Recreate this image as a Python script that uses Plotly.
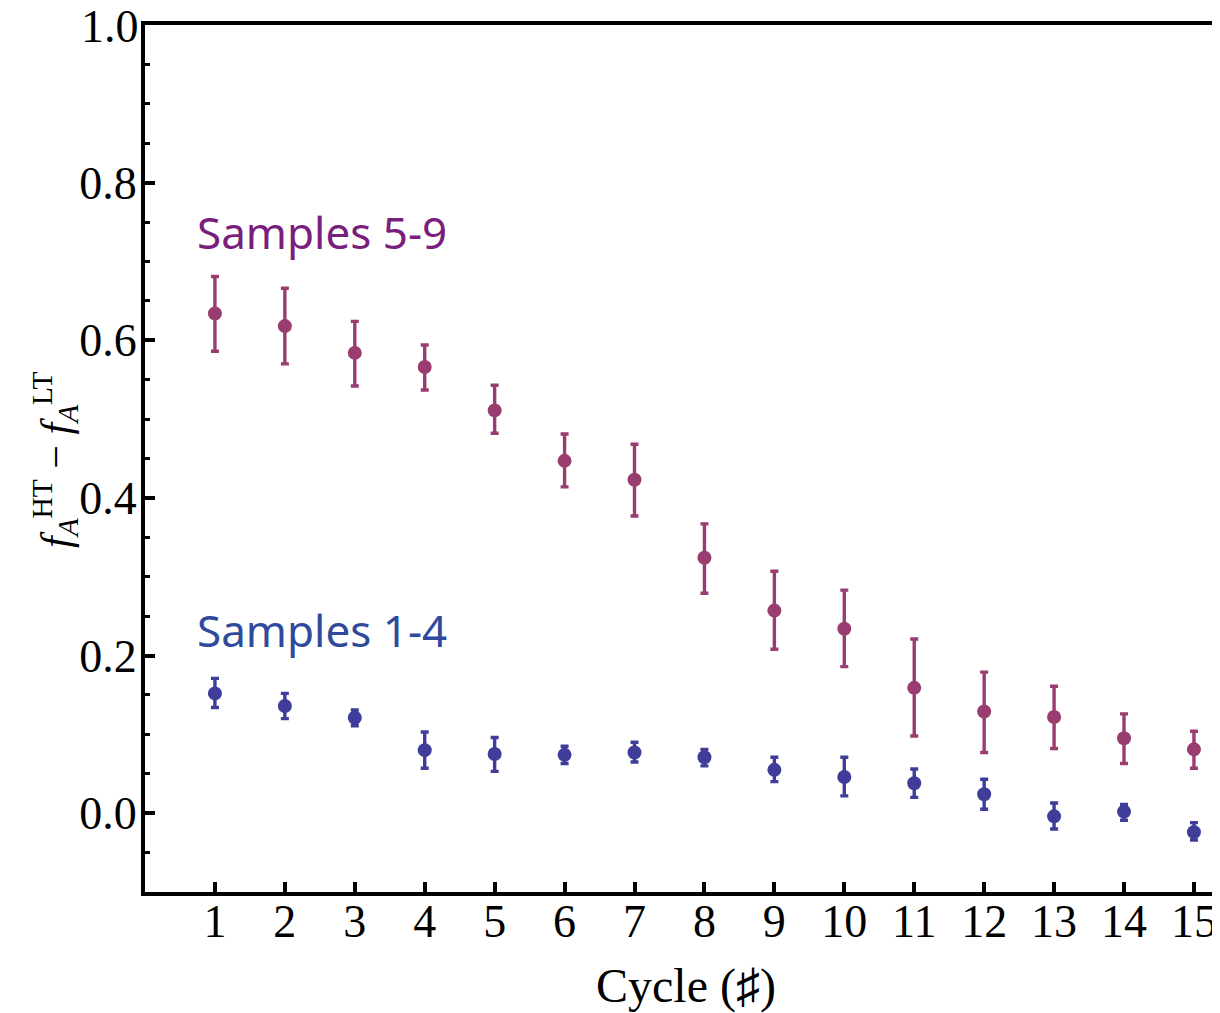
import plotly.graph_objects as go

cycles = list(range(1, 16))

s59_values = [0.634, 0.618, 0.584, 0.566, 0.511, 0.447, 0.423, 0.324, 0.257, 0.234, 0.159, 0.129, 0.122, 0.095, 0.081]
s59_err_plus = [0.047, 0.048, 0.040, 0.028, 0.032, 0.034, 0.045, 0.043, 0.050, 0.049, 0.062, 0.050, 0.039, 0.031, 0.023]
s59_err_minus = [0.048, 0.048, 0.042, 0.029, 0.029, 0.033, 0.046, 0.045, 0.049, 0.048, 0.061, 0.052, 0.040, 0.032, 0.024]

s14_values = [0.152, 0.136, 0.121, 0.080, 0.075, 0.074, 0.077, 0.071, 0.055, 0.046, 0.038, 0.024, -0.004, 0.002, -0.024]
s14_err_plus = [0.019, 0.016, 0.010, 0.023, 0.021, 0.011, 0.013, 0.010, 0.016, 0.025, 0.018, 0.019, 0.017, 0.009, 0.012]
s14_err_minus = [0.018, 0.016, 0.010, 0.023, 0.022, 0.011, 0.012, 0.011, 0.015, 0.024, 0.018, 0.019, 0.016, 0.011, 0.010]

y_ticks = [0.0, 0.2, 0.4, 0.6, 0.8, 1.0]
y_tick_labels = ["0.0", "0.2", "0.4", "0.6", "0.8", "1.0"]

magenta = "#993d71"
blue = "#3f3d99"

# the page has an 8px body margin, so figure pixel = page pixel - 8
OFF = 8
W, H = 1220, 1013
L, T = 145 - OFF, 25 - OFF
PB = 892 - OFF
R, B = 0, H - PB
pw, ph = W - L - R, PB - T
x_max = (W + OFF - 145) / 69.93


def paper(px, py):
    return ((px - OFF) - L) / pw, 1 - ((py - OFF) - T) / ph


fig = go.Figure()
for vals, ep, em, col in [(s59_values, s59_err_plus, s59_err_minus, magenta),
                          (s14_values, s14_err_plus, s14_err_minus, blue)]:
    fig.add_trace(go.Scatter(
        x=cycles, y=vals, mode="markers",
        marker=dict(color=col, size=14),
        error_y=dict(type="data", symmetric=False, array=ep, arrayminus=em,
                     color=col, thickness=3.4, width=4),
        showlegend=False,
    ))

serif = "Liberation Serif, Times New Roman, serif"

ax1 = paper(195, 232)
ax2 = paper(195, 630)
ay = paper(55, 460)
axt = paper(686, 986)
a10 = paper(141, 26)

fig.update_layout(
    width=W, height=H,
    margin=dict(l=L, r=R, t=T, b=B, autoexpand=False),
    paper_bgcolor="white", plot_bgcolor="white",
    font=dict(family=serif, size=46, color="black"),
    xaxis=dict(
        range=[0, x_max], tickmode="array", tickvals=cycles,
        ticks="inside", ticklen=10, tickwidth=3.5, tickcolor="black",
        showline=True, linecolor="black", linewidth=4, mirror=True,
        showgrid=False, zeroline=False,
        tickfont=dict(family=serif, size=46),
        ticklabelstandoff=-14,
    ),
    yaxis=dict(
        range=[-0.1, 1.0], tickmode="array", tickvals=y_ticks[:-1], ticktext=y_tick_labels[:-1],
        ticks="inside", ticklen=10, tickwidth=3.5, tickcolor="black",
        minor=dict(dtick=0.05, tick0=0, ticks="inside", ticklen=5, tickwidth=3, tickcolor="black"),
        showline=True, linecolor="black", linewidth=4,
        showgrid=False, zeroline=False,
        tickfont=dict(family=serif, size=46),
        ticklabelstandoff=-5,
    ),
    annotations=[
        dict(text=y_tick_labels[-1], x=a10[0], y=a10[1], xref="paper", yref="paper",
             showarrow=False, font=dict(family=serif, size=46, color="black"),
             xanchor="right", yanchor="middle"),
        dict(text="Samples 5-9", x=ax1[0], y=ax1[1], xref="paper", yref="paper",
             showarrow=False, font=dict(family="Noto Sans", size=44, color="#7a1e7e"),
             xanchor="left", yanchor="middle"),
        dict(text="Samples 1-4", x=ax2[0], y=ax2[1], xref="paper", yref="paper",
             showarrow=False, font=dict(family="Noto Sans", size=44, color="#2f4a9c"),
             xanchor="left", yanchor="middle"),
        dict(text="<i>f</i><sub><i>A</i></sub><sup>HT</sup> − <i>f</i><sub><i>A</i></sub><sup>LT</sup>",
             x=ay[0], y=ay[1], xref="paper", yref="paper", textangle=-90,
             showarrow=False, font=dict(family=serif, size=42, color="black"),
             xanchor="center", yanchor="middle"),
        dict(text="Cycle (♯)", x=axt[0], y=axt[1], xref="paper", yref="paper",
             showarrow=False, font=dict(family=serif, size=48, color="black"),
             xanchor="center", yanchor="middle"),
    ],
)

fig.write_html("out.html")
